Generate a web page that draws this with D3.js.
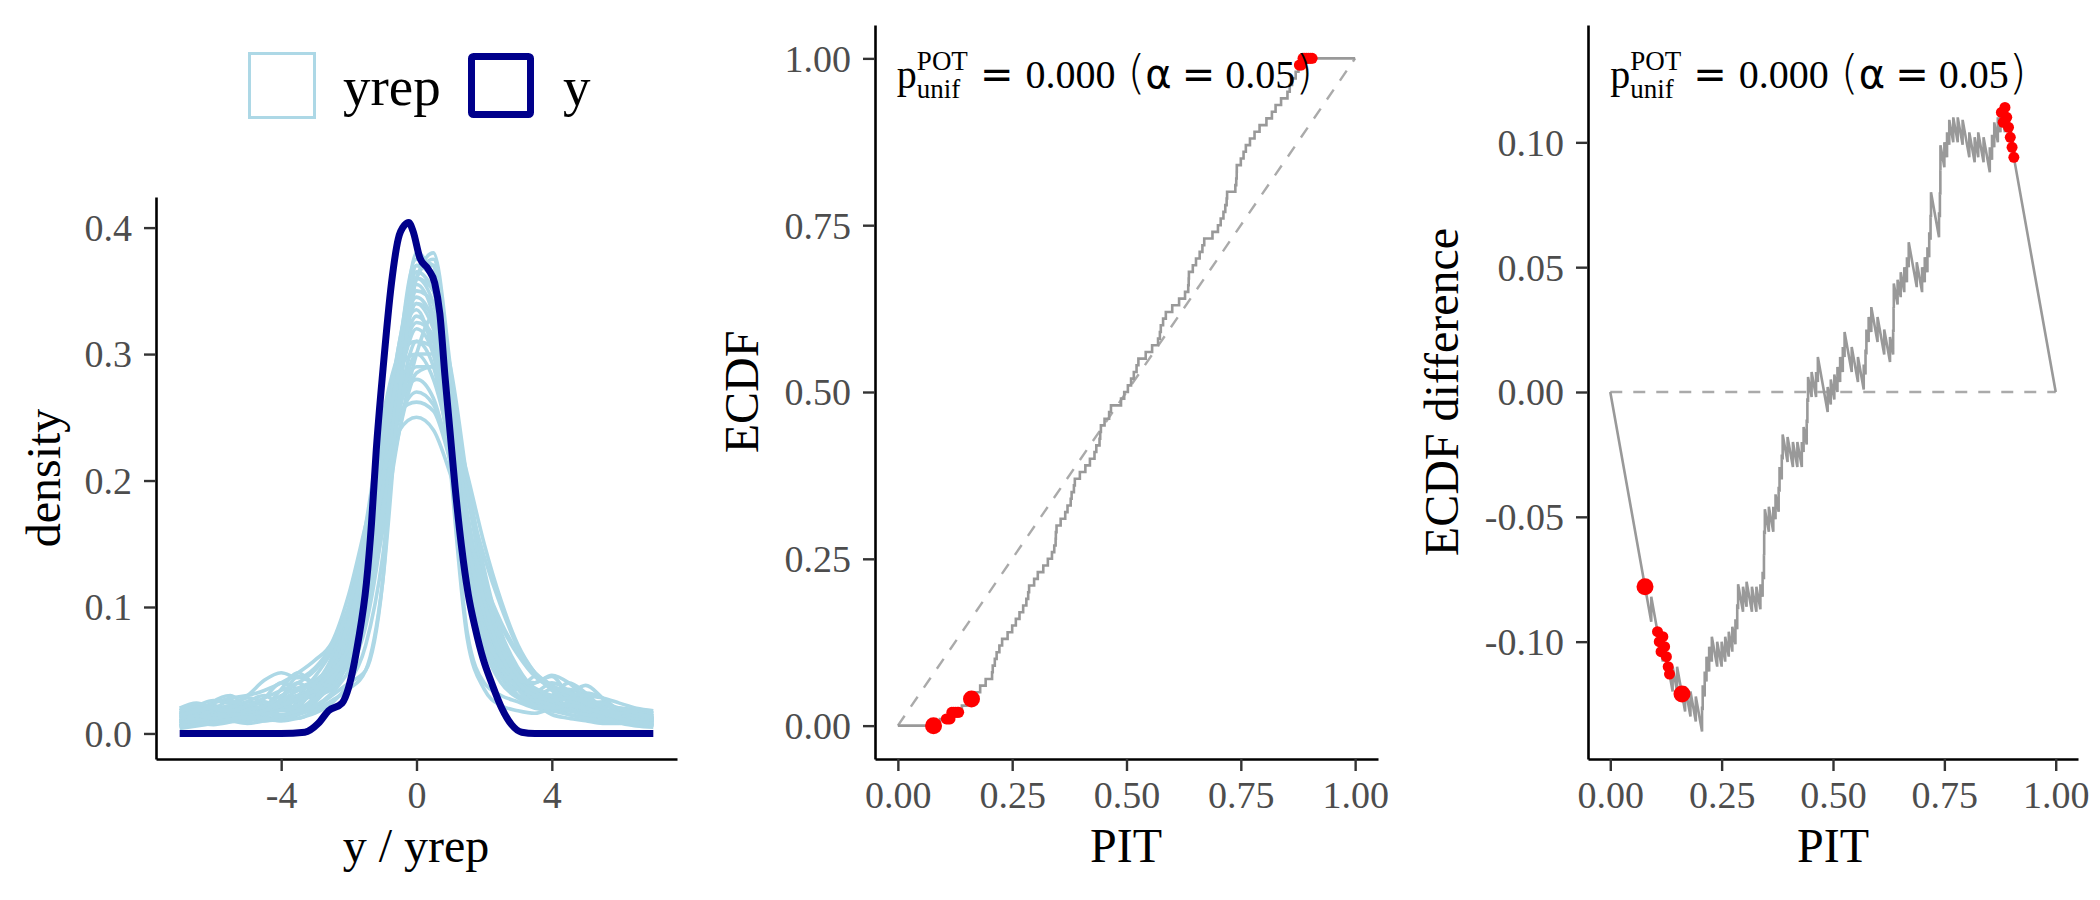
<!DOCTYPE html>
<html>
<head>
<meta charset="utf-8">
<script src="https://cdnjs.cloudflare.com/ajax/libs/d3/7.8.5/d3.min.js"></script>
<style>
  body { margin: 0; background: #fff; }
  text { font-family: "Liberation Serif", "Times New Roman", serif; }
</style>
</head>
<body>
<svg id="chart" width="2100" height="900"></svg>
<script>
// ---- density overlay (left panel) ----
var densX = [-7, -6.5, -6, -5.5, -5, -4.5, -4, -3.5, -3, -2.5, -2, -1.5, -1, -0.5, 0,
  0.5, 1, 1.5, 2, 2.5, 3, 3.5, 4, 4.5, 5, 5.5, 6, 6.5, 7];

var yrepDens = [
  [0.010,0.015,0.020,0.018,0.014,0.016,0.022,0.030,0.035,0.045,0.070,0.120,0.200,0.290,0.340,0.330,0.250,0.150,0.085,0.050,0.030,0.022,0.018,0.020,0.016,0.012,0.010,0.011,0.009],
  [0.006,0.010,0.025,0.030,0.020,0.015,0.028,0.045,0.040,0.050,0.080,0.130,0.210,0.280,0.320,0.300,0.240,0.160,0.100,0.060,0.040,0.028,0.020,0.015,0.013,0.015,0.012,0.008,0.007],
  [0.015,0.020,0.015,0.010,0.012,0.020,0.025,0.020,0.030,0.060,0.100,0.150,0.230,0.310,0.370,0.360,0.250,0.140,0.070,0.045,0.035,0.045,0.038,0.025,0.018,0.015,0.020,0.018,0.014],
  [0.008,0.012,0.010,0.015,0.022,0.018,0.012,0.015,0.025,0.040,0.060,0.100,0.180,0.270,0.360,0.380,0.290,0.170,0.090,0.055,0.040,0.030,0.028,0.035,0.030,0.020,0.014,0.010,0.008],
  [0.012,0.010,0.008,0.012,0.018,0.028,0.040,0.035,0.030,0.045,0.090,0.160,0.240,0.290,0.300,0.280,0.230,0.170,0.110,0.070,0.050,0.035,0.025,0.020,0.015,0.012,0.014,0.016,0.012],
  [0.018,0.022,0.018,0.012,0.010,0.015,0.020,0.028,0.035,0.050,0.070,0.110,0.190,0.280,0.350,0.340,0.260,0.160,0.090,0.060,0.045,0.030,0.020,0.018,0.022,0.025,0.018,0.012,0.010],
  [0.005,0.008,0.012,0.018,0.025,0.022,0.015,0.018,0.030,0.055,0.090,0.140,0.220,0.300,0.340,0.320,0.270,0.190,0.120,0.075,0.045,0.025,0.015,0.012,0.010,0.008,0.008,0.010,0.012],
  [0.010,0.014,0.018,0.022,0.020,0.012,0.010,0.020,0.035,0.040,0.055,0.090,0.170,0.280,0.370,0.370,0.280,0.160,0.080,0.045,0.030,0.025,0.030,0.040,0.032,0.020,0.015,0.012,0.010],
  [0.014,0.012,0.010,0.012,0.015,0.020,0.035,0.048,0.040,0.045,0.075,0.120,0.190,0.260,0.290,0.290,0.250,0.190,0.120,0.070,0.040,0.030,0.035,0.030,0.020,0.014,0.010,0.008,0.006],
  [0.008,0.010,0.015,0.020,0.016,0.010,0.012,0.025,0.030,0.035,0.060,0.110,0.200,0.300,0.360,0.340,0.260,0.160,0.090,0.050,0.035,0.040,0.045,0.030,0.018,0.012,0.012,0.015,0.014],
  [0.016,0.020,0.016,0.014,0.020,0.025,0.020,0.018,0.025,0.040,0.065,0.100,0.160,0.240,0.300,0.330,0.290,0.200,0.110,0.060,0.035,0.025,0.020,0.018,0.020,0.022,0.018,0.012,0.010],
  [0.006,0.008,0.010,0.012,0.010,0.014,0.020,0.030,0.045,0.065,0.095,0.140,0.200,0.250,0.270,0.260,0.220,0.160,0.110,0.075,0.050,0.035,0.025,0.020,0.016,0.012,0.010,0.008,0.007],
  [0.012,0.015,0.012,0.010,0.012,0.018,0.025,0.030,0.028,0.038,0.060,0.100,0.180,0.290,0.380,0.360,0.250,0.140,0.075,0.050,0.040,0.030,0.022,0.030,0.038,0.028,0.016,0.010,0.008],
  [0.010,0.012,0.016,0.014,0.012,0.016,0.022,0.026,0.032,0.050,0.080,0.130,0.210,0.290,0.330,0.310,0.240,0.160,0.100,0.065,0.045,0.035,0.028,0.022,0.018,0.015,0.014,0.012,0.011],
  [0.020,0.016,0.012,0.015,0.025,0.030,0.022,0.020,0.028,0.042,0.068,0.115,0.205,0.300,0.345,0.325,0.245,0.150,0.088,0.055,0.038,0.026,0.020,0.025,0.028,0.020,0.014,0.012,0.013],
  [0.007,0.009,0.014,0.020,0.028,0.025,0.018,0.022,0.038,0.060,0.100,0.165,0.250,0.300,0.310,0.290,0.220,0.150,0.095,0.060,0.042,0.032,0.026,0.020,0.014,0.010,0.009,0.011,0.010],
  [0.013,0.017,0.022,0.017,0.011,0.013,0.027,0.040,0.033,0.036,0.058,0.095,0.175,0.285,0.365,0.350,0.265,0.170,0.100,0.058,0.035,0.022,0.018,0.024,0.032,0.028,0.018,0.013,0.011],
  [0.009,0.011,0.013,0.011,0.015,0.022,0.030,0.036,0.042,0.055,0.085,0.130,0.195,0.265,0.310,0.305,0.265,0.200,0.130,0.080,0.052,0.034,0.024,0.019,0.017,0.019,0.016,0.011,0.009],
  [0.011,0.013,0.019,0.026,0.021,0.014,0.011,0.016,0.027,0.048,0.078,0.125,0.215,0.310,0.355,0.330,0.235,0.145,0.085,0.052,0.037,0.033,0.040,0.034,0.022,0.016,0.013,0.010,0.008],
  [0.015,0.012,0.009,0.010,0.013,0.017,0.023,0.029,0.038,0.052,0.082,0.135,0.225,0.305,0.335,0.300,0.225,0.155,0.105,0.068,0.046,0.036,0.030,0.026,0.022,0.018,0.015,0.013,0.012],
  [0.004,0.006,0.008,0.010,0.012,0.010,0.012,0.015,0.020,0.030,0.040,0.050,0.120,0.300,0.375,0.370,0.220,0.080,0.040,0.030,0.025,0.020,0.018,0.015,0.012,0.010,0.008,0.006,0.005],
  [0.006,0.008,0.007,0.009,0.012,0.016,0.014,0.012,0.018,0.026,0.035,0.050,0.120,0.270,0.370,0.360,0.210,0.075,0.035,0.022,0.018,0.016,0.020,0.024,0.018,0.012,0.009,0.008,0.006],
  [0.016,0.020,0.024,0.028,0.030,0.034,0.040,0.048,0.058,0.072,0.110,0.165,0.220,0.255,0.262,0.255,0.215,0.160,0.115,0.085,0.062,0.045,0.036,0.030,0.026,0.022,0.020,0.018,0.016],
  [0.010,0.012,0.014,0.016,0.018,0.022,0.026,0.030,0.036,0.048,0.068,0.105,0.170,0.240,0.285,0.290,0.255,0.205,0.150,0.105,0.070,0.048,0.034,0.026,0.022,0.018,0.016,0.014,0.012],
  [0.018,0.022,0.026,0.024,0.030,0.042,0.048,0.044,0.052,0.070,0.100,0.150,0.210,0.260,0.280,0.265,0.215,0.150,0.095,0.060,0.040,0.028,0.022,0.018,0.015,0.014,0.013,0.012,0.011],
  [0.008,0.010,0.012,0.010,0.008,0.010,0.014,0.018,0.022,0.032,0.050,0.085,0.165,0.290,0.360,0.350,0.250,0.140,0.080,0.055,0.042,0.040,0.046,0.040,0.028,0.020,0.016,0.014,0.012],
  [0.012,0.014,0.012,0.014,0.016,0.018,0.022,0.028,0.034,0.044,0.062,0.100,0.175,0.255,0.300,0.300,0.250,0.190,0.140,0.100,0.068,0.048,0.036,0.030,0.026,0.024,0.020,0.016,0.013],
  [0.014,0.018,0.020,0.016,0.014,0.018,0.026,0.034,0.040,0.056,0.088,0.140,0.220,0.290,0.325,0.315,0.255,0.175,0.105,0.062,0.040,0.030,0.026,0.028,0.024,0.018,0.016,0.018,0.016],
  [0.020,0.024,0.020,0.018,0.022,0.028,0.034,0.040,0.050,0.068,0.100,0.150,0.205,0.240,0.250,0.240,0.205,0.160,0.120,0.088,0.064,0.048,0.038,0.032,0.030,0.028,0.024,0.020,0.018],
  [0.006,0.007,0.009,0.011,0.013,0.012,0.010,0.012,0.016,0.024,0.040,0.070,0.140,0.270,0.360,0.375,0.270,0.140,0.070,0.040,0.028,0.022,0.020,0.022,0.020,0.016,0.012,0.009,0.007]
];

var yObsX = [-7, -4, -3.3, -2.9, -2.6, -2.2, -2.0, -1.73, -1.48, -1.33, -1.19, -0.99, -0.74, -0.54, -0.35,
  -0.23, -0.1, 0.1, 0.35, 0.54, 0.69, 0.84, 0.99, 1.14, 1.33, 1.53, 1.73, 1.98, 2.22, 2.52,
  2.81, 3.11, 3.5, 7];
var yObsDens = [0, 0, 0.001, 0.008, 0.018, 0.024, 0.037, 0.072, 0.119, 0.166, 0.224, 0.288, 0.356, 0.391, 0.402,
  0.404, 0.397, 0.376, 0.367, 0.356, 0.332, 0.283, 0.239, 0.195, 0.148, 0.110, 0.084, 0.058, 0.040, 0.020,
  0.007, 0.001, 0, 0];

var densXTicks = [-4, 0, 4];
var densYTicks = [0.0, 0.1, 0.2, 0.3, 0.4];
var legendLabels = ["yrep", "y"];

// ---- PIT values (sorted) for the ECDF panels ----
var pit = [0.092, 0.118, 0.140, 0.150, 0.168, 0.180, 0.192, 0.206, 0.2075, 0.212,
  0.216, 0.222, 0.228, 0.240, 0.250, 0.258, 0.266, 0.274, 0.281, 0.285,
  0.287, 0.298, 0.306, 0.318, 0.328, 0.337, 0.342, 0.345, 0.3455, 0.347,
  0.356, 0.366, 0.371, 0.378, 0.380, 0.385, 0.387, 0.398, 0.410, 0.420,
  0.430, 0.434, 0.441, 0.4425, 0.444, 0.452, 0.462, 0.466, 0.488, 0.495,
  0.503, 0.510, 0.516, 0.522, 0.526, 0.542, 0.556, 0.569, 0.573, 0.575,
  0.580, 0.586, 0.600, 0.615, 0.628, 0.635, 0.636, 0.6365, 0.645, 0.652,
  0.660, 0.666, 0.670, 0.688, 0.700, 0.706, 0.712, 0.716, 0.719, 0.720,
  0.738, 0.740, 0.741, 0.7412, 0.750, 0.756, 0.761, 0.770, 0.780, 0.791,
  0.806, 0.818, 0.826, 0.838, 0.852, 0.857, 0.862, 0.870, 0.876, 0.886];

// points flagged by the POT test (isolated ones and runs)
var flagSingle = [0.078, 0.161];
var flagRun = [0.106, 0.110, 0.114, 0.118, 0.122, 0.126, 0.130, 0.133,
  0.878, 0.882, 0.886, 0.890, 0.894, 0.898, 0.902, 0.906];

var pitTicks = [0, 0.25, 0.5, 0.75, 1];
var ecdfTicks = [0, 0.25, 0.5, 0.75, 1];
var diffTicks = [-0.10, -0.05, 0, 0.05, 0.10];
var pvalText = "0.000";
var alphaText = "0.05";

var svg = d3.select("#chart");
svg.append("rect").attr("width", 2100).attr("height", 900).attr("fill", "#fff");

var TICK_FONT = 38, TITLE_FONT = 48;

// R prints a plain hyphen for negatives
function fmt(spec) {
  var f = d3.format(spec);
  return function (v) { return f(v).replace("\u2212", "-"); };
}

function styleAxis(g, isX) {
  g.select(".domain").attr("stroke", "#000").attr("stroke-width", 2.6);
  g.selectAll(".tick line").attr("stroke", "#333").attr("stroke-width", 2.4);
  g.selectAll(".tick text")
    .attr("fill", "#4d4d4d")
    .style("font-size", TICK_FONT + "px")
    .style("font-family", "'Liberation Serif', serif");
  if (isX) {
    g.selectAll(".tick text").attr("y", 49).attr("dy", 0);
  } else {
    g.selectAll(".tick text").attr("x", -24).attr("dy", "0.34em");
  }
}

function drawAxes(x, y, xt, yt, xfmt, yfmt) {
  var yb = y.range()[0], xl = x.range()[0];
  var gx = svg.append("g").attr("transform", "translate(0," + yb + ")")
    .call(d3.axisBottom(x).tickValues(xt).tickFormat(xfmt).tickSize(12).tickSizeOuter(0));
  styleAxis(gx, true);
  var gy = svg.append("g").attr("transform", "translate(" + xl + ",0)")
    .call(d3.axisLeft(y).tickValues(yt).tickFormat(yfmt).tickSize(12).tickSizeOuter(0));
  styleAxis(gy, false);
}

function xTitle(txt, cx) {
  svg.append("text").attr("x", cx).attr("y", 862).attr("text-anchor", "middle")
    .style("font-size", TITLE_FONT + "px").attr("fill", "#000").text(txt);
}
function yTitle(txt, bx, cy) {
  svg.append("text").attr("transform", "translate(" + bx + "," + cy + ") rotate(-90)")
    .attr("text-anchor", "middle").style("font-size", TITLE_FONT + "px")
    .attr("fill", "#000").text(txt);
}

// p_unif^POT = 0.000 (alpha = 0.05)
function pvalLabel(x0, base) {
  var g = svg.append("g");
  var p = g.append("text").attr("x", x0).attr("y", base).style("font-size", "40px").text("p");
  var pw = p.node().getComputedTextLength();
  var sup = g.append("text").attr("x", x0 + pw).attr("y", base - 18).style("font-size", "27px").text("POT");
  var sub = g.append("text").attr("x", x0 + pw).attr("y", base + 10).style("font-size", "27px").text("unif");
  var sw = Math.max(sup.node().getComputedTextLength(), sub.node().getComputedTextLength());
  var t = g.append("text").attr("x", x0 + pw + sw + 12).attr("y", base).style("font-size", "40px");
  var sans = "'DejaVu Sans', sans-serif";
  t.append("tspan").style("font-family", sans).text("=");
  t.append("tspan").attr("dx", 12).text(pvalText);
  t.append("tspan").attr("dx", 12).style("font-family", sans).style("font-size", "46px").style("font-weight", 300).text("(");
  t.append("tspan").style("font-family", sans).text("α");
  t.append("tspan").attr("dx", 10).style("font-family", sans).text("=");
  t.append("tspan").attr("dx", 10).text(alphaText);
  t.append("tspan").style("font-family", sans).style("font-size", "46px").style("font-weight", 300).text(")");
}

// ================= panel 1: density overlay =================
var x1 = d3.scaleLinear().domain([-7.7, 7.7]).range([156, 677]);
var y1 = d3.scaleLinear().domain([-0.0202, 0.4242]).range([759, 197]);

var densLine = d3.line()
  .x(function (d) { return x1(d[0]); })
  .y(function (d) { return y1(d[1]); })
  .curve(d3.curveMonotoneX);

svg.append("g").selectAll("path").data(yrepDens).enter().append("path")
  .attr("d", function (dens) { return densLine(dens.map(function (v, i) { return [densX[i], v]; })); })
  .attr("fill", "none").attr("stroke", "#add8e6").attr("stroke-width", 3.6);

svg.append("path")
  .attr("d", densLine(yObsDens.map(function (v, i) { return [yObsX[i], v]; })))
  .attr("fill", "none").attr("stroke", "#00008b").attr("stroke-width", 7)
  .attr("stroke-linejoin", "round");

drawAxes(x1, y1, densXTicks, densYTicks, fmt("d"), fmt(".1f"));
xTitle("y / yrep", 416);
yTitle("density", 60, 478);

// legend
var leg = svg.append("g");
leg.append("rect").attr("x", 249.5).attr("y", 53.5).attr("width", 65).attr("height", 64)
  .attr("fill", "#fff").attr("stroke", "#add8e6").attr("stroke-width", 3);
leg.append("text").attr("x", 343).attr("y", 105).style("font-size", "55px").text(legendLabels[0]);
leg.append("rect").attr("x", 471.5).attr("y", 56.5).attr("width", 59).attr("height", 58).attr("rx", 2)
  .attr("fill", "#fff").attr("stroke", "#00008b").attr("stroke-width", 7);
leg.append("text").attr("x", 563).attr("y", 105).style("font-size", "55px").text(legendLabels[1]);

// ================= ECDF helpers =================
var N = pit.length;
function ecdf(v) {
  return pit.filter(function (p) { return p <= v; }).length / N;
}
var twoDec = fmt(".2f");

// ================= panel 2: PIT ECDF =================
var x2 = d3.scaleLinear().domain([-0.05, 1.05]).range([875, 1378]);
var y2 = d3.scaleLinear().domain([-0.05, 1.05]).range([759, 25]);

svg.append("line")
  .attr("x1", x2(0)).attr("y1", y2(0)).attr("x2", x2(1)).attr("y2", y2(1))
  .attr("stroke", "#aaa").attr("stroke-width", 2.4).attr("stroke-dasharray", "12,11");

var stepPts = [[0, 0]].concat(pit.map(function (p, i) { return [p, (i + 1) / N]; }), [[1, 1]]);
svg.append("path")
  .attr("d", d3.line().x(function (d) { return x2(d[0]); }).y(function (d) { return y2(d[1]); })
    .curve(d3.curveStepAfter)(stepPts))
  .attr("fill", "none").attr("stroke", "#999").attr("stroke-width", 2.6);

svg.append("g").selectAll("circle").data(flagRun).enter().append("circle")
  .attr("cx", function (d) { return x2(d); }).attr("cy", function (d) { return y2(ecdf(d)); })
  .attr("r", 5.5).attr("fill", "#ff0000");
svg.append("g").selectAll("circle").data(flagSingle).enter().append("circle")
  .attr("cx", function (d) { return x2(d); }).attr("cy", function (d) { return y2(ecdf(d)); })
  .attr("r", 8.5).attr("fill", "#ff0000");

drawAxes(x2, y2, pitTicks, ecdfTicks, twoDec, twoDec);
xTitle("PIT", 1126);
yTitle("ECDF", 758, 392);
pvalLabel(x2(0) - 1, 88);

// ================= panel 3: ECDF difference =================
var x3 = d3.scaleLinear().domain([-0.05, 1.05]).range([1588, 2078]);
var y3 = d3.scaleLinear().domain([-0.147, 0.147]).range([759, 25]);

svg.append("line")
  .attr("x1", x3(0)).attr("y1", y3(0)).attr("x2", x3(1)).attr("y2", y3(0))
  .attr("stroke", "#aaa").attr("stroke-width", 2.4).attr("stroke-dasharray", "12,11");

// ECDF(x) - x: drops with slope -1 between observations, jumps 1/N at each one
var diffPts = [[0, 0]];
pit.forEach(function (p, i) {
  diffPts.push([p, i / N - p]);
  diffPts.push([p, (i + 1) / N - p]);
});
diffPts.push([1, 0]);
svg.append("path")
  .attr("d", d3.line().x(function (d) { return x3(d[0]); }).y(function (d) { return y3(d[1]); })(diffPts))
  .attr("fill", "none").attr("stroke", "#999").attr("stroke-width", 2.6);

svg.append("g").selectAll("circle").data(flagRun).enter().append("circle")
  .attr("cx", function (d) { return x3(d); }).attr("cy", function (d) { return y3(ecdf(d) - d); })
  .attr("r", 5.5).attr("fill", "#ff0000");
svg.append("g").selectAll("circle").data(flagSingle).enter().append("circle")
  .attr("cx", function (d) { return x3(d); }).attr("cy", function (d) { return y3(ecdf(d) - d); })
  .attr("r", 8.5).attr("fill", "#ff0000");

drawAxes(x3, y3, pitTicks, diffTicks, twoDec, twoDec);
xTitle("PIT", 1833);
yTitle("ECDF difference", 1458, 392);
pvalLabel(x3(0), 88);
</script>
</body>
</html>
